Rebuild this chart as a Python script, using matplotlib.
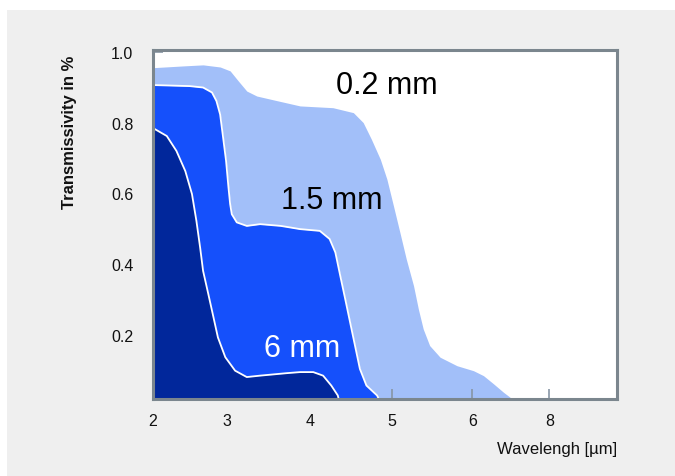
import numpy as np
import matplotlib
matplotlib.use("Agg")
import matplotlib.pyplot as plt
from matplotlib.patches import Rectangle

plt.rcParams['font.family'] = ['Liberation Sans', 'DejaVu Sans']

# ---- data (wavelength in µm, transmissivity) ----
wl_02 = [2.0, 2.41, 2.68, 2.91, 3.04, 3.14, 3.24, 3.36, 3.60, 3.88, 4.28, 4.53, 4.65, 4.75,
         4.86, 4.94, 5.02, 5.10, 5.18, 5.27, 5.33, 5.39, 5.47, 5.60, 5.81, 6.03, 6.29,
         6.55, 6.81, 6.98, 7.03]
t_02 = [0.955, 0.960, 0.963, 0.957, 0.946, 0.917, 0.889, 0.875, 0.862, 0.847, 0.842, 0.828, 0.800, 0.753,
        0.696, 0.640, 0.565, 0.490, 0.414, 0.339, 0.273, 0.217, 0.170, 0.137, 0.113, 0.099, 0.085,
        0.062, 0.038, 0.024, 0.0]

wl_15 = [2.0, 2.50, 2.68, 2.80, 2.86, 2.91, 2.95, 2.99, 3.02, 3.04, 3.06, 3.12, 3.24, 3.40,
         3.65, 3.88, 4.12, 4.24, 4.31, 4.37, 4.43, 4.49, 4.55, 4.61, 4.69, 4.82, 4.88]
t_15 = [0.906, 0.903, 0.899, 0.885, 0.861, 0.823, 0.758, 0.692, 0.617, 0.570, 0.541, 0.518, 0.508, 0.513,
        0.508, 0.499, 0.494, 0.471, 0.433, 0.367, 0.302, 0.236, 0.170, 0.104, 0.057, 0.029, 0.0]

wl_6 = [2.0, 2.19, 2.32, 2.44, 2.53, 2.59, 2.64, 2.68, 2.75, 2.82, 2.88, 2.98, 3.10, 3.24,
        3.40, 3.72, 3.88, 4.04, 4.16, 4.26, 4.34, 4.37]
t_6 = [0.785, 0.762, 0.720, 0.663, 0.598, 0.522, 0.447, 0.381, 0.316, 0.250, 0.193, 0.137, 0.099, 0.081,
       0.085, 0.092, 0.095, 0.095, 0.085, 0.057, 0.029, 0.0]

labels = ["0.2 mm", "1.5 mm", "6 mm"]
label_pos = [(4.94, 0.905), (4.26, 0.581), (3.91, 0.163)]

x_ticks = [2, 3, 4, 5, 6, 8]
y_ticks = [0.2, 0.4, 0.6, 0.8, 1.0]

# ---- layout: non-linear wavelength axis (tick pixel positions) ----
scale_wl = [1.0, 2, 3, 4, 5, 6, 8, 9.75, 12.0]
scale_px = [78.6, 152.7, 226.8, 310.0, 391.8, 472.3, 549.3, 616.7, 709.0]

def fwd(x):
    return np.interp(x, scale_wl, scale_px)

def inv(p):
    return np.interp(p, scale_px, scale_wl)

W, H = 675, 477
fig = plt.figure(figsize=(W / 100, H / 100), dpi=100, facecolor='white')
fig.patches.append(Rectangle((7 / W, 0), 1 - 7 / W, (H - 11) / H, transform=fig.transFigure,
                             facecolor='#efefef', edgecolor='none', zorder=-10))

ax = fig.add_axes([152.7 / W, 1 - 400 / H, (616.7 - 152.7) / W, (400 - 51) / H])
ax.set_xscale('function', functions=(fwd, inv))
ax.set_xlim(2, 9.75)
ax.set_ylim(0.019, 1.005)
ax.set_facecolor('white')

c_light = '#a2bff9'
c_mid = '#1550fb'
c_dark = '#01279b'

ax.fill_between(wl_02, 0, t_02, color=c_light, lw=0, zorder=1)
ax.fill_between(wl_15, 0, t_15, color=c_mid, lw=0, zorder=2)
ax.plot(wl_15, t_15, color='white', lw=1.3, zorder=3, solid_capstyle='round', solid_joinstyle='round')
ax.fill_between(wl_6, 0, t_6, color=c_dark, lw=0, zorder=4)
ax.plot(wl_6, t_6, color='white', lw=1.3, zorder=5, solid_capstyle='round', solid_joinstyle='round')

colors_txt = ['black', 'black', 'white']
for lab, (lx, ly), ct in zip(labels, label_pos, colors_txt):
    ax.text(lx, ly, lab, fontsize=22, color=ct, ha='center', va='center', zorder=10)

ax.set_xticks(x_ticks)
ax.set_xticklabels([str(v) for v in x_ticks])
ax.set_yticks(y_ticks)
ax.set_yticklabels([f"{v:.1f}" for v in y_ticks])
ax.minorticks_off()
ax.tick_params(axis='both', direction='in', length=7, width=1.2, color='#8796a6',
               labelsize=11.5, labelcolor='#111111')
ax.tick_params(axis='x', pad=10)
ax.tick_params(axis='y', pad=14)

for s in ax.spines.values():
    s.set_color('#7b868e')
    s.set_linewidth(2.2)
    s.set_zorder(20)

ax.set_ylabel('Transmissivity in %', fontsize=12, fontweight='bold', color='#111111')
ax.yaxis.set_label_coords((77 - 152.7) / 464.0, (400 - 132.5) / 349.0)
fig.text(616.7 / W, 1 - 450 / H, 'Wavelengh [µm]', fontsize=12, color='#111111',
         ha='right', va='center')

fig.savefig('out.png', dpi=100, facecolor=fig.get_facecolor())
